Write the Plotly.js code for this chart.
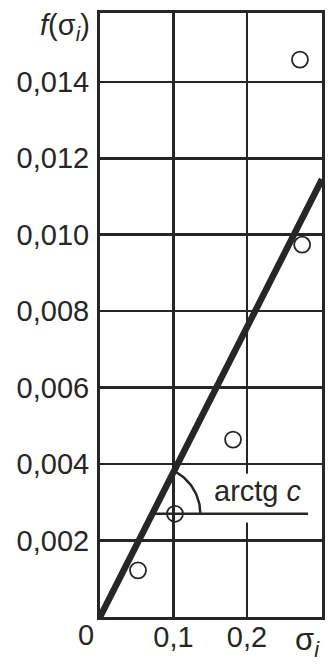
<!DOCTYPE html>
<html>
<head>
<meta charset="utf-8">
<script src="https://cdn.plot.ly/plotly-3.0.1.min.js"></script>
<style>
  body { margin: 0; background: #fff; }
  #chart { width: 328px; height: 665px; }
</style>
</head>
<body>
<div id="chart"></div>
<script>
// measured points
var sigma = [0.0517, 0.102, 0.181, 0.275, 0.272];
var fSigma = [0.00122, 0.0027, 0.00464, 0.00974, 0.01458];

// fitted straight line through the origin
var fitX = [0, 0.302];
var fitY = [0, 0.01145];

// reference level for the angle mark
var refLevel = 0.0027;
var refEnd = 0.283;

// tick labels
var xTicks = [0.1, 0.2];
var xTickText = ["0,1", "0,2"];
var yTicks = [0.002, 0.004, 0.006, 0.008, 0.010, 0.012, 0.014];
var yTickText = ["0,002", "0,004", "0,006", "0,008", "0,010", "0,012", "0,014"];

var W = 328, H = 665;
var M = {l: 100, r: 6, t: 13, b: 48};
var xRange = [0, 0.302];
var yRange = [0, 0.0158];
var pxX = (W - M.l - M.r) / (xRange[1] - xRange[0]);
var pxY = (H - M.t - M.b) / (yRange[1] - yRange[0]);

// angle arc, drawn in pixel space then mapped back
var slope = fitY[1] / fitX[1];
var x0 = refLevel / slope;
var ang = Math.atan(slope * pxY / pxX);
var r = 48;
var arcX = [], arcY = [];
for (var i = 0; i <= 30; i++) {
  var a = ang * i / 30;
  arcX.push(x0 + r * Math.cos(a) / pxX);
  arcY.push(refLevel + r * Math.sin(a) / pxY);
}

var dark = "#262626";
var font = "Liberation Sans, Arial, sans-serif";

var data = [
  {x: fitX, y: fitY, mode: "lines", line: {color: dark, width: 6.5}},
  {x: [x0, refEnd], y: [refLevel, refLevel], mode: "lines", line: {color: dark, width: 2.5}},
  {x: arcX, y: arcY, mode: "lines", line: {color: dark, width: 2.5}},
  {x: sigma, y: fSigma, mode: "markers",
   marker: {symbol: "circle-open", size: 16, color: dark, line: {width: 1.8, color: dark}}}
];

var layout = {
  width: W, height: H,
  margin: M,
  showlegend: false,
  paper_bgcolor: "#fff",
  plot_bgcolor: "#fff",
  font: {family: font, size: 29, color: dark},
  xaxis: {
    range: xRange, tickvals: xTicks, ticktext: xTickText,
    showgrid: true, gridcolor: dark, gridwidth: 2.5,
    showline: true, linecolor: dark, linewidth: 3, mirror: true,
    zeroline: false, ticks: "", ticklen: 0, ticklabelstandoff: -8,
    tickfont: {size: 29}
  },
  yaxis: {
    range: yRange, tickvals: yTicks, ticktext: yTickText,
    showgrid: true, gridcolor: dark, gridwidth: 2.5,
    showline: true, linecolor: dark, linewidth: 3, mirror: true,
    zeroline: false, ticks: "", ticklen: 0, ticklabelstandoff: 2,
    tickfont: {size: 29}
  },
  shapes: [
    {type: "rect", layer: "between", xref: "x", yref: "y",
     x0: 0.19, x1: 0.21, y0: 0.00247, y1: 0.00375,
     fillcolor: "#fff", line: {width: 0}}
  ],
  annotations: [
    {text: "arctg <i>c</i>", xref: "x", yref: "y", x: 0.215, y: 0.0033,
     showarrow: false, font: {size: 29}},
    {text: "<i>f</i>(σ<sub><i>i</i></sub>)", xref: "paper", yref: "paper",
     x: -0.036, y: 0.977, xanchor: "right", yanchor: "middle",
     showarrow: false, font: {size: 29}},
    {text: "0", xref: "x", yref: "y", x: 0, y: 0, xanchor: "right", yanchor: "top",
     xshift: -4, yshift: 0, showarrow: false, font: {size: 29}},
    {text: "σ<sub><i>i</i></sub>", xref: "paper", yref: "y", x: 1, y: 0,
     xanchor: "right", yanchor: "top", yshift: -3, showarrow: false, font: {size: 31}}
  ]
};

Plotly.newPlot("chart", data, layout, {displayModeBar: false, staticPlot: true});
</script>
</body>
</html>
